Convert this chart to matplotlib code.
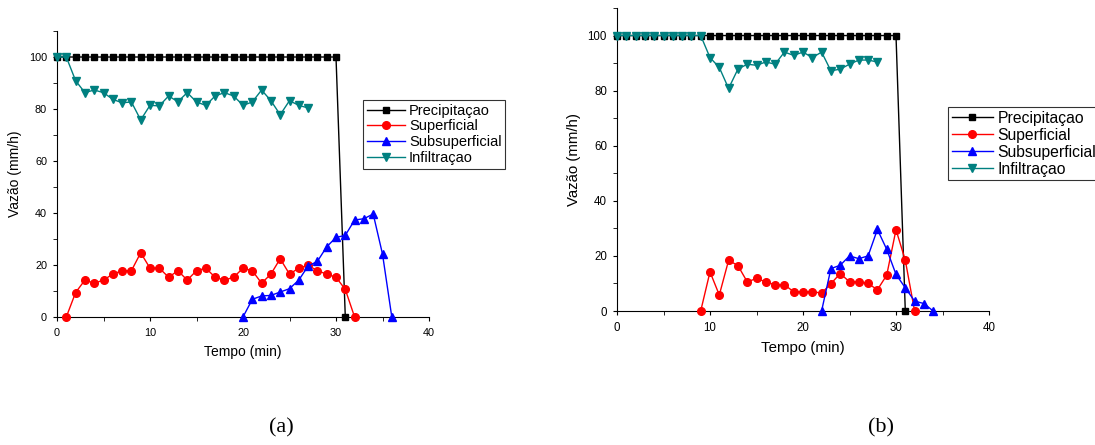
import matplotlib
matplotlib.use("Agg")
import matplotlib.pyplot as plt
from matplotlib.ticker import MultipleLocator

plt.rcParams['font.family'] = ['Liberation Sans', 'DejaVu Sans']

# ---- data: panel (a)
a_prec_t = list(range(0, 32))
a_prec = [100] * 31 + [0]
a_sup_t = list(range(1, 33))
a_sup = [0, 9.4, 14.2, 13, 14.2, 16.5, 17.8, 17.8, 24.7, 18.8, 18.8, 15.3, 17.8, 14.2, 17.8,
         18.8, 15.3, 14.2, 15.3, 18.8, 17.8, 13, 16.5, 22.4, 16.5, 18.8, 19.9, 17.8, 16.5,
         15.3, 10.6, 0]
a_sub_t = list(range(20, 37))
a_sub = [0, 6.8, 8.1, 8.3, 9.6, 10.9, 14.2, 19.6, 21.4, 27, 30.6, 31.4, 37.3, 37.8, 39.6, 24.2, 0]
a_inf_t = list(range(0, 28))
a_inf = [100, 100, 90.9, 86.3, 87.3, 86.3, 83.7, 82.4, 82.7, 75.8, 81.4, 81.2, 85, 82.8, 86.3,
         82.7, 81.4, 85, 86.3, 85, 81.4, 82.7, 87.3, 83.2, 77.8, 83.2, 81.4, 80.4]

# ---- data: panel (b)
b_prec_t = list(range(0, 32))
b_prec = [100] * 31 + [0]
b_sup_t = list(range(9, 33))
b_sup = [0, 14.2, 5.8, 18.4, 16.5, 10.6, 11.8, 10.6, 9.5, 9.5, 7, 7, 7, 6.5, 9.9, 13.6,
         10.6, 10.6, 10, 7.7, 13, 29.5, 18.4, 0]
b_sub_t = list(range(22, 35))
b_sub = [0, 15.4, 16.6, 20, 19, 20, 29.6, 22.4, 13.3, 8.4, 3.6, 2.7, 0]
b_inf_t = list(range(0, 29))
b_inf = [100] * 10 + [92, 88.4, 80.8, 87.8, 89.6, 89.2, 90.4, 89.6, 94, 92.8, 94, 92, 94,
                      87.2, 87.8, 89.6, 91.1, 91.1, 90.4]

labels = ["Precipitaçao", "Superficial", "Subsuperficial", "Infiltraçao"]
colors = ["black", "#ff0000", "#0000ff", "#008080"]
markers = ["s", "o", "^", "v"]
msizes = [4.5, 5.5, 6, 6]

W, H = 1095, 445
fig = plt.figure(figsize=(W / 100, H / 100), dpi=100)


def add_ax(x0, y0, x1, y1):
    return fig.add_axes([x0 / W, 1 - y1 / H, (x1 - x0) / W, (y1 - y0) / H])


def draw(ax, series, legend_pos, leg_fs, tick_fs, lab_fs, caption, cap_x):
    for (t, v), lab, c, m, ms in zip(series, labels, colors, markers, msizes):
        ax.plot(t, v, color=c, marker=m, markersize=ms, lw=1, label=lab, clip_on=False, zorder=3)
    ax.set_xlim(0, 40)
    ax.set_ylim(0, 110)
    ax.xaxis.set_major_locator(MultipleLocator(10))
    ax.xaxis.set_minor_locator(MultipleLocator(5))
    ax.yaxis.set_major_locator(MultipleLocator(20))
    ax.yaxis.set_minor_locator(MultipleLocator(10))
    for s in ["top", "right"]:
        ax.spines[s].set_visible(False)
    ax.tick_params(which='both', length=3.2, direction='out', labelsize=tick_fs)
    ax.tick_params(axis='x', which='major', pad=5)
    ax.tick_params(axis='y', which='major', pad=4)
    ax.set_xlabel("Tempo (min)", fontsize=lab_fs, labelpad=5)
    ax.set_ylabel("Vazão (mm/h)", fontsize=lab_fs, labelpad=5)
    leg = ax.legend(loc='upper left', bbox_to_anchor=legend_pos, bbox_transform=fig.transFigure,
                    fontsize=leg_fs, frameon=True, fancybox=False, edgecolor='black',
                    borderpad=0.25, labelspacing=0.12, handlelength=2.6, handletextpad=0.3,
                    borderaxespad=0)
    leg.get_frame().set_linewidth(0.8)
    fig.text(cap_x / W, 1 - 428 / H, caption, family=['Liberation Serif'], fontsize=16,
             ha='center', va='center')


ax1 = add_ax(57, 31, 429, 317)
draw(ax1, [(a_prec_t, a_prec), (a_sup_t, a_sup), (a_sub_t, a_sub), (a_inf_t, a_inf)],
     (363 / W, 1 - 100 / H), 10.5, 7.8, 10, "(a)", 281)

ax2 = add_ax(617, 8, 989, 311)
draw(ax2, [(b_prec_t, b_prec), (b_sup_t, b_sup), (b_sub_t, b_sub), (b_inf_t, b_inf)],
     (948 / W, 1 - 107 / H), 11.3, 8.3, 10.8, "(b)", 881)

fig.savefig("out.png", dpi=100)
